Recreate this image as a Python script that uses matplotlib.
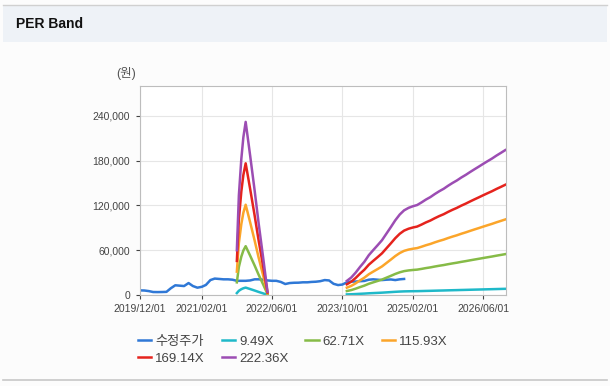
import numpy as np
import pandas as pd
import matplotlib
matplotlib.use('Agg')
import matplotlib.pyplot as plt
import matplotlib.dates as mdates
from matplotlib.lines import Line2D
from matplotlib.ticker import FuncFormatter

plt.rcParams['font.family'] = ['Liberation Sans', 'Noto Sans CJK KR', 'DejaVu Sans']

# 수정주가 (monthly)
price_dates = pd.date_range('2019-12-01', '2024-12-01', freq='MS')
price = [6200, 6000, 5200, 4000, 3900, 4000, 4200, 9000, 13000, 12500, 12000, 16000,
         12000, 9800, 11000, 13500, 20000, 22000, 21500, 21000, 21000, 20500,
         19000, 19000, 19000, 19500, 21000, 21000, 20500, 19500, 19000, 19000,
         17500, 14700, 16000, 16400, 16500, 17000, 17000, 17500, 17800, 18500,
         20000, 19500, 15000, 13300, 14000, 17000, 18000, 18000, 18500, 18800,
         20500, 21000, 20500, 20000, 20500, 20800, 20000, 21000, 21500]

# EPS estimated from the band lines (band = PER x EPS)
per = [9.49, 62.71, 115.93, 169.14, 222.36]
per_labels = ['9.49X', '62.71X', '115.93X', '169.14X', '222.36X']
per_colors = ['#1fb9c9', '#86bb47', '#fba52a', '#e5231d', '#9c4db3']

eps1_dates = pd.to_datetime(['2021-10-01', '2021-10-15', '2021-11-01', '2021-11-15',
                             '2021-12-01', '2022-01-01', '2022-02-01', '2022-03-01',
                             '2022-04-01', '2022-05-01'])
eps1 = [270, 600, 820, 950, 1043, 840, 630, 430, 225, 20]

eps2_dates = pd.date_range('2023-11-01', '2026-11-01', freq='MS')
eps2 = [85, 105, 135, 170, 200, 240, 270, 300, 330, 370, 410, 450, 485, 510, 525,
        535, 542, 558, 575, 590, 608, 625, 640, 658, 675, 690, 708, 724, 740, 757,
        773, 790, 806, 822, 840, 856, 873]

fig = plt.figure(figsize=(6.1, 3.86), dpi=100)
fig.patch.set_facecolor('#fcfcfc')

# header
fig.patches.append(plt.Rectangle((0.005, 1 - 42/386), 0.99, 36/386, transform=fig.transFigure,
                                 facecolor='#eef2f7', edgecolor='none'))
fig.lines.append(Line2D([0.005, 0.995], [1 - 5/386, 1 - 5/386], transform=fig.transFigure,
                        color='#d0d0d0', lw=1))
fig.lines.append(Line2D([0.005, 0.995], [1 - 380/386, 1 - 380/386], transform=fig.transFigure,
                        color='#c8c8c8', lw=1.2))
fig.text(16/610, 1 - 24/386, 'PER Band', fontsize=10, fontweight='bold', va='center',
         color='#111111')

ax = fig.add_axes([140/610, 1 - 295/386, 366/610, 209/386])
ax.set_facecolor('white')

lw = 1.8
hp, = ax.plot(price_dates, price, color='#2f78d6', lw=lw, label='수정주가')
handles = []
for p, lab, c in zip(per, per_labels, per_colors):
    h, = ax.plot(eps1_dates, np.array(eps1) * p, color=c, lw=lw, label=lab)
    ax.plot(eps2_dates, np.array(eps2) * p, color=c, lw=lw)
    handles.append(h)

ax.set_xlim(pd.Timestamp('2019-12-01'), pd.Timestamp('2026-11-06'))
ax.set_ylim(0, 280000)
ax.set_yticks([0, 60000, 120000, 180000, 240000])
ax.yaxis.set_major_formatter(FuncFormatter(lambda v, _: f'{int(v):,}'))
xt = pd.to_datetime(['2019-12-01', '2021-02-01', '2022-06-01', '2023-10-01',
                     '2025-02-01', '2026-06-01'])
ax.set_xticks(xt)
ax.xaxis.set_major_formatter(mdates.DateFormatter('%Y/%m/%d'))
ax.tick_params(labelsize=7.5, colors='#444444', length=3, width=0.8)
ax.tick_params(axis='y', pad=4)
ax.grid(True, color='#e6e6e6', lw=0.8)
ax.set_axisbelow(True)
for s in ax.spines.values():
    s.set_color('#bdbdbd')

fig.text(126/610, 1 - 74/386, '(원)', fontsize=9, color='#555555', ha='center', va='center')

order = [hp, handles[3], handles[0], handles[4], handles[1], handles[2]]
fig.legend(handles=order, labels=[h.get_label() for h in order], ncol=4,
           loc='upper left', bbox_to_anchor=(126/610, 1 - 324/386), frameon=False,
           fontsize=9.5, handlelength=1.0, handletextpad=0.3, columnspacing=1.3,
           labelspacing=0.35, labelcolor='#444444')

fig.savefig('out.png', dpi=100, facecolor=fig.get_facecolor())
